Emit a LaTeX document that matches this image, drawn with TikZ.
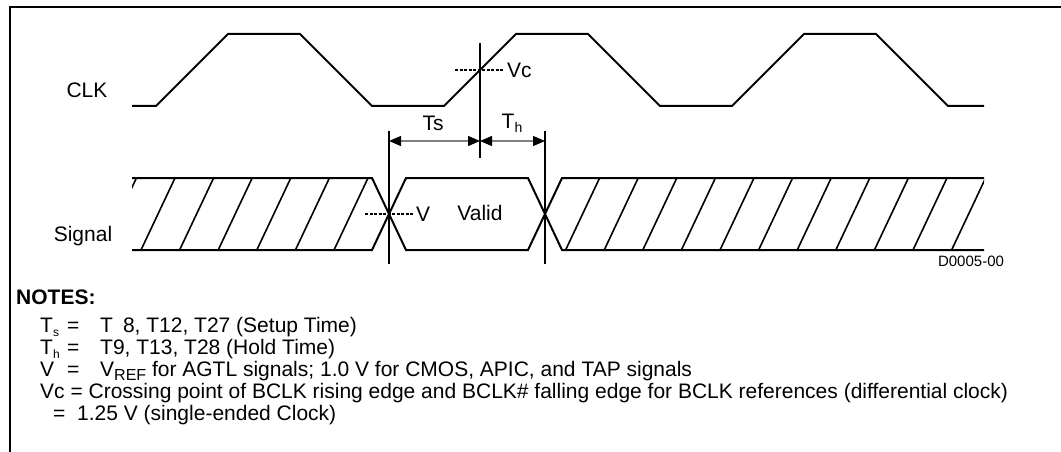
\documentclass[tikz,border=0pt]{standalone}
\usepackage{fontspec}
\setmainfont{Liberation Sans}
\usepackage{tikz}
\usetikzlibrary{arrows.meta}
\newcommand{\lowsub}[2][12]{\raisebox{-4pt}{\fontsize{#1}{#1}\selectfont #2}}

\begin{document}
\begin{tikzpicture}[x=1pt, y=-1pt,
  every node/.style={inner sep=0pt, font=\fontsize{21}{22}\selectfont},
  wave/.style={line width=2pt, line join=miter},
  hatch/.style={line width=1.6pt},
  refline/.style={line width=2pt},
  levelmark/.style={line width=1.3pt, dash pattern=on 3pt off 1.5pt},
  dim/.style={line width=1.3pt, draw=gray,
    {Triangle[length=12pt,width=10pt,color=black]}-{Triangle[length=12pt,width=10pt,color=black]}},
  note/.style={anchor=base west}
]
\useasboundingbox (0,0) rectangle (1061,452);
\draw[line width=2pt] (10,452) -- (10,6.7) -- (1061,6.7);

% clock
\draw[wave] (132,106) foreach \k in {0,1,2} {
    -- ({156+288*\k},106) -- ({228+288*\k},34) -- ({300+288*\k},34) -- ({372+288*\k},106)
  } -- (984,106);

% signal
\draw[wave] (132,178) -- (372,178) -- (406,250) -- (528,250) -- (562,178) -- (984,178);
\draw[wave] (132,250) -- (372,250) -- (406,178) -- (528,178) -- (562,250) -- (984,250);
\begin{scope}
  \clip (132,178) -- (372,178) -- (389,214) -- (372,250) -- (132,250) -- cycle
        (562,178) -- (984,178) -- (984,250) -- (562,250) -- (545,214) -- cycle;
  \foreach \k in {-1,...,21}
    \draw[hatch] ({175+38.6*\k},178) -- ({141+38.6*\k},250);
\end{scope}

% reference lines
\coordinate (tsL) at (389,141);
\coordinate (vcM) at (480,141);
\coordinate (thR) at (545,141);
\draw[refline] (389,131) -- (389,264);
\draw[refline] (545,131) -- (545,264);
\draw[refline] (480,43) -- (480,158);
\draw[dim] (tsL) -- (vcM);
\draw[dim] (vcM) -- (thR);

\draw[levelmark] (455,70) -- (503,70);
\draw[levelmark] (365,214) -- (413,214);

\node[anchor=west] (vclbl) at (507,70) {Vc};
\node[anchor=west] (vlbl) at (416,214) {V};
\node (valid) at (480,213) {Valid};
\node (tslbl) at (433,123) {Ts};
\node (thlbl) at (512,123) {T\lowsub[14]{h}};

\node (clk) at (87,90) {CLK};
\node (sig) at (83,236) {Signal};
\node[font=\fontsize{15}{16}\selectfont] (code) at (971,261) {D0005-00};

% notes
\node[note, font=\fontsize{21}{22}\selectfont\bfseries] (notes) at (16,304) {NOTES:};
\node[note] (ts1) at (40,332) {T\lowsub{s}};
\node[note] (ts2) at (67,332) {=};
\node[note] (ts3) at (100,332) {T\hspace{10pt}8, T12, T27 (Setup Time)};
\node[note] (th1) at (40,354) {T\lowsub{h}};
\node[note] (th2) at (67,354) {=};
\node[note] (th3) at (100,354) {T9, T13, T28 (Hold Time)};
\node[note] (v1) at (40,376) {V};
\node[note] (v2) at (67,376) {=};
\node[note] (v3) at (100,376) {V\lowsub[16]{REF} for AGTL signals; 1.0 V for CMOS, APIC, and TAP signals};
\node[note] (vc1) at (40,398) {Vc = Crossing point of BCLK rising edge and BCLK\# falling edge for BCLK references (differential clock)};
\node[note] (vc2) at (53,420) {= \ 1.25 V (single-ended Clock)};
\end{tikzpicture}
\end{document}
